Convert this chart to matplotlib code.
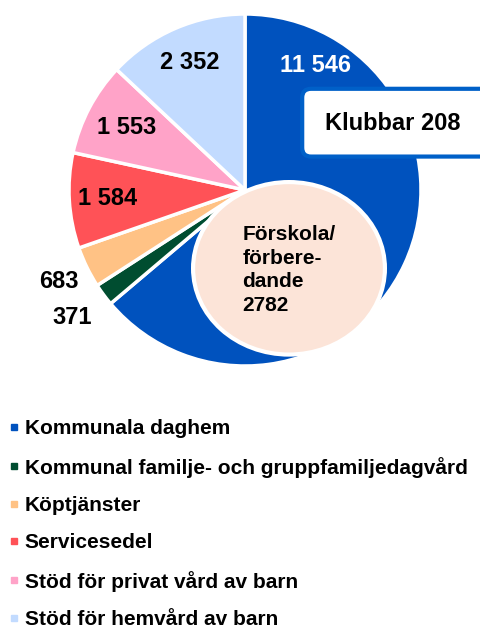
import numpy as np
import matplotlib.pyplot as plt
from matplotlib.patches import Ellipse, FancyBboxPatch
from matplotlib.lines import Line2D

plt.rcParams['font.family'] = ['Liberation Sans', 'DejaVu Sans']
plt.rcParams['font.weight'] = 'bold'

# data
categories = ['Kommunala daghem',
              'Kommunal familje- och gruppfamiljedagvård',
              'Köptjänster',
              'Servicesedel',
              'Stöd för privat vård av barn',
              'Stöd för hemvård av barn']
values = [11546, 371, 683, 1584, 1553, 2352]
value_labels = ['11 546', '371', '683', '1 584', '1 553', '2 352']
colors = ['#0052BE', '#004D30', '#FFC285', '#FF5257', '#FFA3C8', '#C2DBFF']
klubbar = 208
forskola = 2782

fig = plt.figure(figsize=(4.81, 6.25), dpi=100)

# pie axes: centre at (245, 190) px, radius 176 px
cx, cy, R = 245, 190, 176
W, H = 481, 625
ax = fig.add_axes([(cx - R) / W, (H - cy - R) / H, 2 * R / W, 2 * R / H])

wedges, _ = ax.pie(values, colors=colors, startangle=90, counterclock=False,
                   wedgeprops=dict(edgecolor='white', linewidth=2.5))
ax.set_xlim(-1, 1)
ax.set_ylim(-1, 1)
ax.axis('off')

# value labels at each wedge's mid angle
rfac = [None, 1.22, 1.18, 0.78, 0.76, 0.79]
for i, w in enumerate(wedges):
    if i == 0:
        # big slice label sits near the top
        x, y = 0.40, 0.71
        col = 'white'
    else:
        ang = np.deg2rad((w.theta1 + w.theta2) / 2)
        x, y = rfac[i] * np.cos(ang), rfac[i] * np.sin(ang)
        col = 'black'
    ax.text(x, y, value_labels[i], ha='center', va='center', fontsize=17,
            color=col, fontweight='bold')

# Förskola circle
ell = Ellipse((0.25, -0.445), 1.09, 0.98, facecolor='#FCE4D8',
              edgecolor='white', linewidth=3, clip_on=False, zorder=3)
ax.add_patch(ell)
ax.text(-0.015, -0.455, 'Förskola/\nförbere-\ndande\n%d' % forskola,
        ha='left', va='center', fontsize=15, linespacing=1.3, zorder=4)

# Klubbar box
box = FancyBboxPatch((0.325, 0.19), 1.25, 0.385,
                     boxstyle='round,pad=0.0,rounding_size=0.05',
                     facecolor='white', edgecolor='#0060C8', linewidth=3,
                     clip_on=False, zorder=3)
ax.add_patch(box)
ax.text(0.84, 0.38, 'Klubbar %d' % klubbar, ha='center', va='center',
        fontsize=17, zorder=4)

# legend
handles = [Line2D([], [], marker='s', linestyle='none', markersize=5,
                  markerfacecolor=c, markeredgecolor=c) for c in colors]
fig.legend(handles, categories, loc='upper left', bbox_to_anchor=(0.004, 1 - 413 / H),
           frameon=False, fontsize=15, handlelength=0.6, handletextpad=0.2,
           labelspacing=0.88, borderaxespad=0.0, borderpad=0.3)

fig.savefig('out.png', dpi=100)
